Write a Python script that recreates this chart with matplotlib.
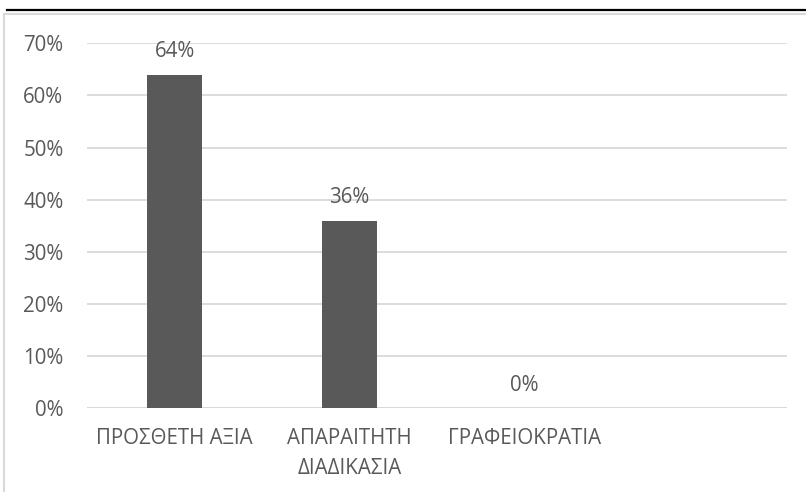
import matplotlib
matplotlib.use("Agg")
import matplotlib.pyplot as plt
from matplotlib.lines import Line2D

categories = ["ΠΡΟΣΘΕΤΗ ΑΞΙΑ", "ΑΠΑΡΑΙΤΗΤΗ\nΔΙΑΔΙΚΑΣΙΑ", "ΓΡΑΦΕΙΟΚΡΑΤΙΑ", ""]
values = [0.64, 0.36, 0.0, None]
yticks = [0, 0.1, 0.2, 0.3, 0.4, 0.5, 0.6, 0.7]

plt.rcParams['font.family'] = ['Open Sans', 'DejaVu Sans']
txt = "#595959"
fs = 14.8

W, H = 806, 492
fig = plt.figure(figsize=(W / 100, H / 100), dpi=100)
ax = fig.add_axes([87 / W, 1 - 408.3 / H, 700 / W, (408.3 - 43.3) / H])

xs = list(range(len(categories)))
bx = [x for x, v in zip(xs, values) if v is not None]
bv = [v for v in values if v is not None]
ax.bar(bx, bv, width=0.315, color="#595959", zorder=3)

for x, v in zip(bx, bv):
    ax.annotate(f"{v*100:.0f}%", (x, v), xytext=(0, 9), textcoords="offset points",
                ha="center", va="bottom", fontsize=fs, color=txt)

ax.set_xlim(-0.5, len(categories) - 0.5)
ax.set_ylim(0, 0.7)
ax.set_yticks(yticks)
ax.set_yticklabels([f"{t*100:.0f}%" for t in yticks], fontsize=fs, color=txt)
ax.set_xticks(xs)
ax.set_xticklabels(categories, fontsize=fs, color=txt, linespacing=1.55)
ax.tick_params(axis="both", length=0)
ax.tick_params(axis="y", pad=17)
ax.tick_params(axis="x", pad=14)
ax.yaxis.grid(True, color="#d9d9d9", linewidth=1.3, zorder=0)
for s in ax.spines.values():
    s.set_visible(False)
ax.axhline(0, color="#d9d9d9", linewidth=1.3, zorder=2)

# chart frame and page underline
fig.add_artist(Line2D([4 / W, 1], [1 - 14 / H, 1 - 14 / H], color="#d9d9d9", lw=1.5))
fig.add_artist(Line2D([4 / W, 4 / W], [0, 1 - 14 / H], color="#d9d9d9", lw=1.5))
fig.add_artist(Line2D([7 / W, 1], [1 - 10 / H, 1 - 10 / H], color="black", lw=1.6))

fig.savefig("out.png", dpi=100)
